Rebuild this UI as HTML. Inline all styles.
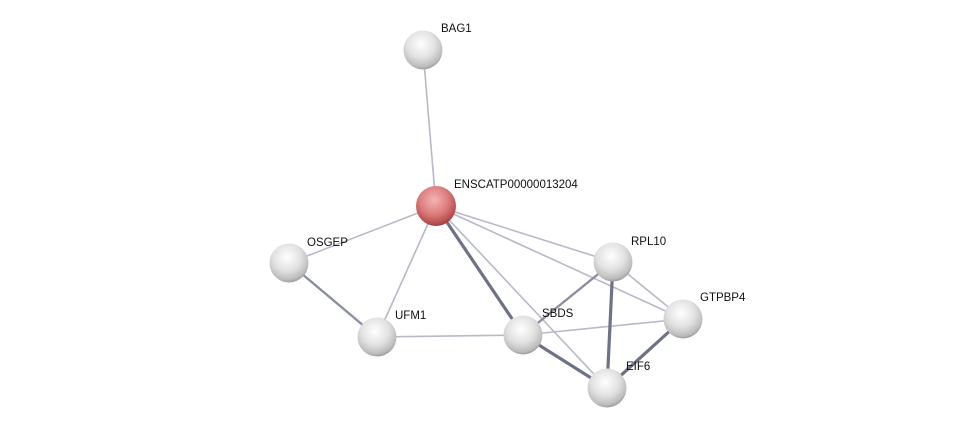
<!DOCTYPE html>
<html><head><style>body{margin:0;background:#fff}svg{display:block}text{font-family:"Liberation Sans",sans-serif;font-size:11.5px;fill:#111}</style></head><body>
<svg width="975" height="433" viewBox="0 0 975 433">
<defs>
<radialGradient id="g" cx="0.45" cy="0.35" r="0.7">
<stop offset="0" stop-color="#ffffff"/><stop offset="0.5" stop-color="#e2e2e2"/><stop offset="0.82" stop-color="#bdbdbd"/><stop offset="1" stop-color="#8a8a8a"/></radialGradient>
<radialGradient id="r" cx="0.45" cy="0.35" r="0.7">
<stop offset="0" stop-color="#f6b4b4"/><stop offset="0.5" stop-color="#dc7f7f"/><stop offset="0.82" stop-color="#bb5050"/><stop offset="1" stop-color="#853434"/></radialGradient>
</defs>
<g stroke="#b8b8c8" stroke-width="1.6" fill="none">
<line x1="423" y1="50" x2="436" y2="206"/>
<line x1="436" y1="206" x2="289" y2="263"/>
<line x1="436" y1="206" x2="377" y2="337"/>
<line x1="436" y1="206" x2="613" y2="262"/>
<line x1="436" y1="206" x2="683" y2="319"/>
<line x1="436" y1="206" x2="607" y2="388"/>
<line x1="377" y1="337" x2="523" y2="335"/>
<line x1="523" y1="335" x2="683" y2="319"/>
<line x1="613" y1="262" x2="683" y2="319"/>
</g>
<g stroke="#6e7288" fill="none">
<line x1="289" y1="263" x2="377" y2="337" stroke-width="2.4" stroke="#8a8ea0"/>
<line x1="523" y1="335" x2="613" y2="262" stroke-width="2.4" stroke="#8a8ea0"/>
<line x1="436" y1="206" x2="523" y2="335" stroke-width="3.2"/>
<line x1="523" y1="335" x2="607" y2="388" stroke-width="3.2"/>
<line x1="613" y1="262" x2="607" y2="388" stroke-width="3.2"/>
<line x1="683" y1="319" x2="607" y2="388" stroke-width="3.2"/>
</g>
<g>
<circle cx="423" cy="50" r="19.5" fill="url(#g)"/>
<circle cx="289" cy="263" r="19.5" fill="url(#g)"/>
<circle cx="377" cy="337" r="19.5" fill="url(#g)"/>
<circle cx="523" cy="335" r="19.5" fill="url(#g)"/>
<circle cx="613" cy="262" r="19.5" fill="url(#g)"/>
<circle cx="683" cy="319" r="19.5" fill="url(#g)"/>
<circle cx="607" cy="388" r="19.5" fill="url(#g)"/>
<circle cx="436" cy="206" r="20" fill="url(#r)"/>
</g>
<text x="441" y="32">BAG1</text>
<text x="454" y="188">ENSCATP00000013204</text>
<text x="307" y="246">OSGEP</text>
<text x="395" y="319">UFM1</text>
<text x="542" y="317">SBDS</text>
<text x="631" y="245">RPL10</text>
<text x="700" y="301">GTPBP4</text>
<text x="626" y="370">EIF6</text>
</svg>
</body></html>
